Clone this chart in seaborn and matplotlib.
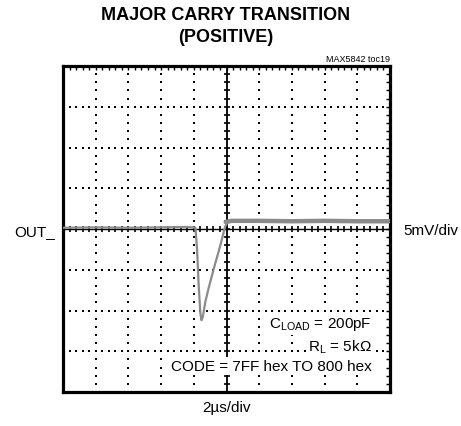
import numpy as np
import matplotlib
matplotlib.use("Agg")
import matplotlib.pyplot as plt
import seaborn as sns

# trace (time in us, output in mV)
t_us = [0.0, 2.0, 4.0, 6.0, 7.6, 8.1, 8.2, 8.3, 8.4, 8.47, 8.55, 8.7, 8.9,
        9.1, 9.3, 9.5, 9.65, 9.8, 9.92, 10.05, 10.3, 12.0, 14.0, 16.0, 18.0, 20.0]
out_mv = [0.15, 0.2, 0.15, 0.2, 0.25, 0.15, -2.5, -7.0, -10.3, -11.2, -10.8, -9.0, -7.3,
          -5.8, -4.3, -2.9, -1.8, -0.6, 0.3, 0.8, 0.95, 0.95, 0.9, 0.95, 0.9, 0.9]
post_t = [9.95, 10.3, 12.0, 14.0, 16.0, 18.0, 20.0]
post_mv = [0.85, 1.0, 1.0, 0.95, 1.0, 0.95, 0.95]

x_div = 2.0   # us/div
y_div = 5.0   # mV/div
n_x, n_y = 10, 8

sns.set_style("white")
plt.rcParams["font.family"] = ["Liberation Sans", "DejaVu Sans"]
plt.rcParams["text.color"] = "black"
plt.rcParams["mathtext.fontset"] = "custom"
plt.rcParams["mathtext.rm"] = "Liberation Sans"

W, H = 461, 427
fig = plt.figure(figsize=(W / 100, H / 100), dpi=100)
ax = fig.add_axes([63 / W, 1 - 393 / H, 327 / W, 326 / H])

xmax = n_x * x_div
ymax = n_y * y_div / 2
ax.set_xlim(0, xmax)
ax.set_ylim(-ymax, ymax)

# dotted graticule
xs_minor = np.arange(0, xmax + 1e-9, x_div / 5)
ys_minor = np.arange(-ymax, ymax + 1e-9, y_div / 5)
for gx in np.arange(x_div, xmax, x_div):
    if abs(gx - xmax / 2) < 1e-9:
        continue
    ax.plot([gx] * len(ys_minor), ys_minor, ls="none", marker="s", ms=1.7, mew=0,
            color="black", zorder=1)
for gy in np.arange(-ymax + y_div, ymax, y_div):
    if abs(gy) < 1e-9:
        continue
    ax.plot(xs_minor, [gy] * len(xs_minor), ls="none", marker="s", ms=1.7, mew=0,
            color="black", zorder=1)

# center cross with small tick marks
ax.axhline(0, color="black", lw=1.0, zorder=1)
ax.axvline(xmax / 2, color="black", lw=1.3, zorder=1)
ax.plot(xs_minor, [0] * len(xs_minor), ls="none", marker="|", ms=4.5, mew=1.2, color="black", zorder=1)
ax.plot([xmax / 2] * len(ys_minor), ys_minor, ls="none", marker="_", ms=5, mew=1.2, color="black", zorder=1)

# the trace
sns.lineplot(x=t_us, y=out_mv, ax=ax, color="#8c8c8c", lw=1.6, zorder=3)
sns.lineplot(x=post_t, y=post_mv, ax=ax, color="#8a8a8a", lw=3.2, zorder=3)

ax.set_xticks(xs_minor)
ax.set_yticks(ys_minor)
ax.tick_params(direction="in", length=3, width=1, top=True, right=True,
               labelbottom=False, labelleft=False, color="black")
for s in ax.spines.values():
    s.set_visible(True)
    s.set_color("black")
    s.set_linewidth(2.3)
ax.set_xlabel("")
ax.set_ylabel("")

def fx(px):
    return px / W

def fy(py):
    return 1 - py / H

fig.text(fx(226), fy(15), "MAJOR CARRY TRANSITION", ha="center", va="center",
         fontsize=13, fontweight="heavy")
fig.text(fx(226), fy(37), "(POSITIVE)", ha="center", va="center",
         fontsize=13, fontweight="heavy")
fig.text(fx(390), fy(60), "MAX5842 toc19", ha="right", va="center", fontsize=6.5)
fig.text(fx(14), fy(232), "OUT_", ha="left", va="center", fontsize=11)
fig.text(fx(403), fy(231), "5mV/div", ha="left", va="center", fontsize=11)
fig.text(fx(226), fy(408), "2\u00b5s/div", ha="center", va="center", fontsize=11)

box = dict(fc="white", ec="none", pad=1.5)
fig.text(fx(372), fy(325), r"C$_{\mathrm{LOAD}}$ = 200pF", ha="right", va="center",
         fontsize=11, bbox=box, zorder=5)
fig.text(fx(372), fy(347), "R$_{\\mathrm{L}}$ = 5k\u03a9", ha="right", va="center",
         fontsize=11, bbox=box, zorder=5)
fig.text(fx(372), fy(367), "CODE = 7FF hex TO 800 hex", ha="right", va="center",
         fontsize=11, bbox=box, zorder=5)

fig.savefig("out.png", dpi=100)
